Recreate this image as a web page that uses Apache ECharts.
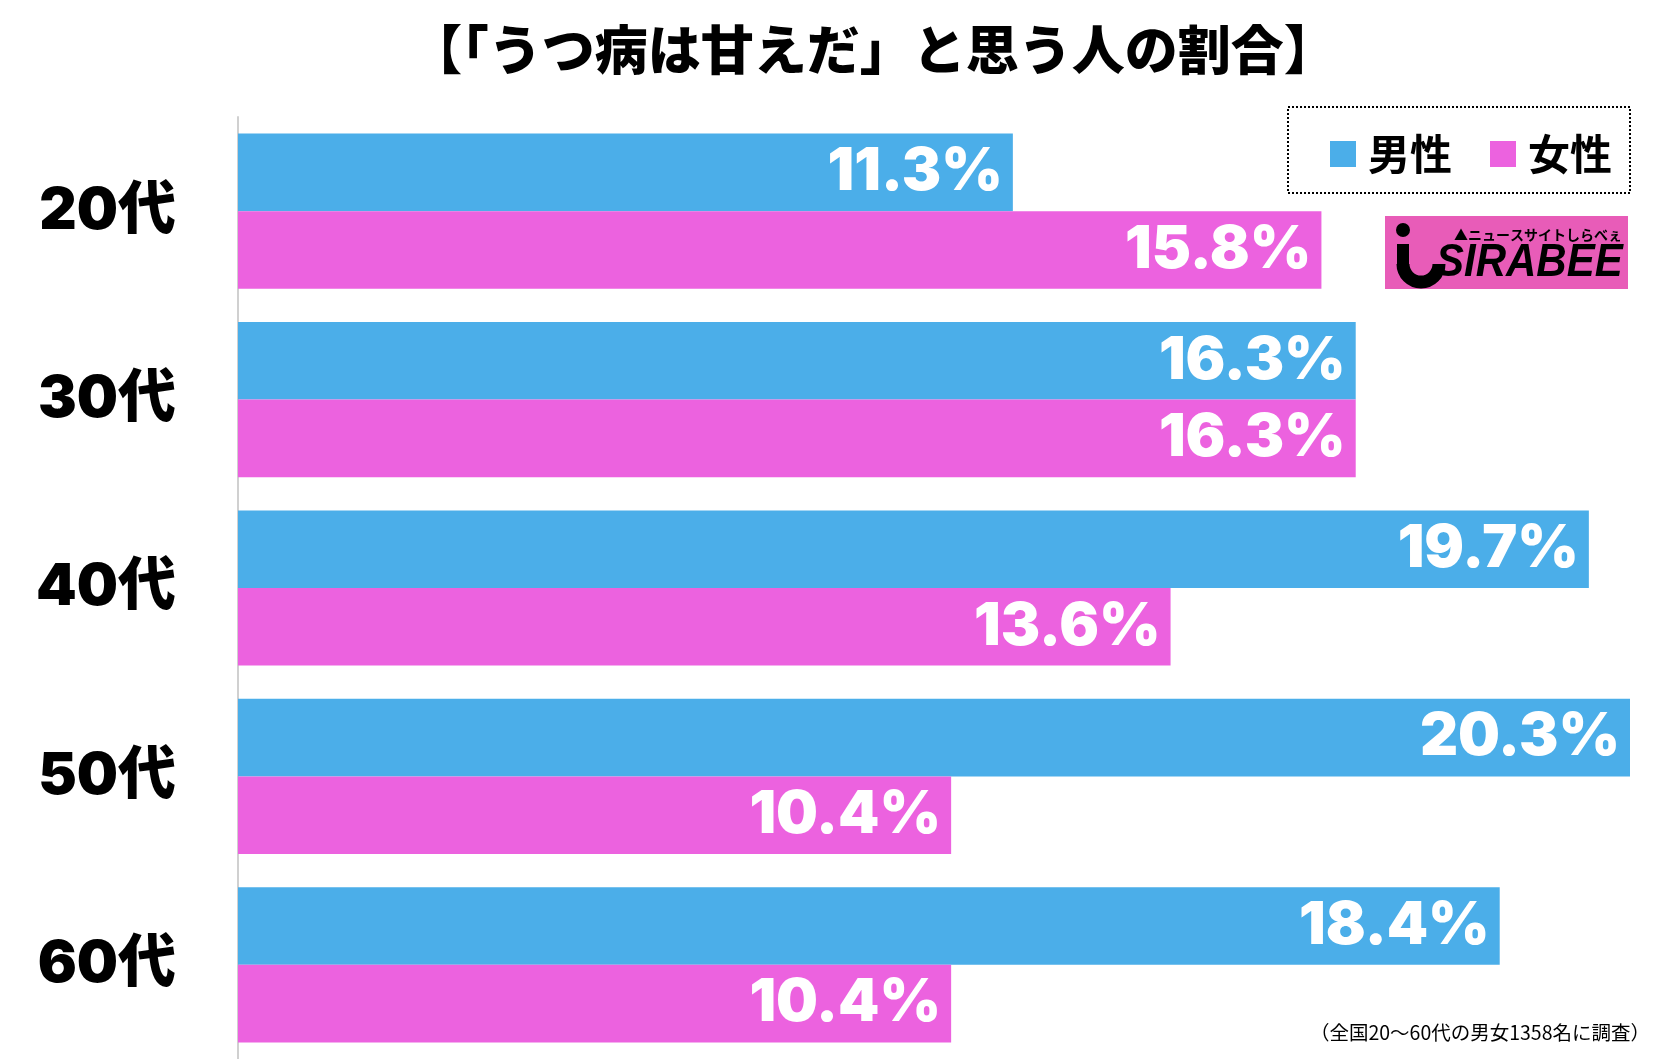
<!DOCTYPE html>
<html>
<head>
<meta charset="utf-8">
<script src="https://cdn.jsdelivr.net/npm/echarts@6/dist/echarts.min.js"></script>
<style>
html,body{margin:0;padding:0;background:#fff;}
#chart{width:1679px;height:1059px;}
</style>
</head>
<body>
<div id="chart"></div>
<script>
const titleText = '【「うつ病は甘えだ」と思う人の割合】';
const categories = ['20代', '30代', '40代', '50代', '60代'];
const seriesNames = ['男性', '女性'];
const maleValues = [11.3, 16.3, 19.7, 20.3, 18.4];
const femaleValues = [15.8, 16.3, 13.6, 10.4, 10.4];
const footnote = '（全国20～60代の男女1358名に調査）';

const BLUE = '#4baee9';
const PINK = '#ec62df';
const CJK = '"Noto Sans CJK JP", "Noto Sans", sans-serif';
const NUM = 'Inter, "Noto Sans", sans-serif';

const chart = echarts.init(document.getElementById('chart'));

const labelCfg = {
  show: true,
  position: 'insideRight',
  distance: 10,
  color: '#fff',
  fontFamily: NUM,
  fontWeight: 900,
  fontSize: 59,
  formatter: p => p.value.toFixed(1) + '%'
};

chart.setOption({
  animation: false,
  backgroundColor: '#fff',
  title: {
    text: titleText,
    left: 868,
    textAlign: 'center',
    top: 18,
    textStyle: {fontFamily: CJK, fontWeight: 900, fontSize: 53, color: '#000'}
  },
  legend: {
    data: seriesNames,
    left: 1325,
    top: 128,
    icon: 'rect',
    itemWidth: 26,
    itemHeight: 26,
    itemGap: 38,
    textStyle: {fontFamily: CJK, fontWeight: 'bold', fontSize: 42, color: '#000', padding: [0, 0, 0, 7]}
  },
  grid: {left: 238, right: 49, top: 117, bottom: 0, containLabel: false},
  xAxis: {
    type: 'value', min: 0, max: 'dataMax',
    show: false
  },
  yAxis: {
    type: 'category',
    data: categories,
    inverse: true,
    axisLine: {show: true, lineStyle: {color: '#d0d0d0', width: 2}},
    axisTick: {show: false},
    axisLabel: {
      margin: 62,
      color: '#000',
      fontFamily: 'Inter, "Noto Sans CJK JP", sans-serif',
      fontWeight: 900,
      fontSize: 58
    }
  },
  series: [
    {name: seriesNames[0], type: 'bar', data: maleValues, itemStyle: {color: BLUE},
     barGap: '0%', barCategoryGap: '17.6%', label: labelCfg},
    {name: seriesNames[1], type: 'bar', data: femaleValues, itemStyle: {color: PINK},
     barGap: '0%', barCategoryGap: '17.6%', label: labelCfg}
  ],
  graphic: [
    {type: 'rect', shape: {x: 1288, y: 107, width: 342, height: 86},
     style: {fill: 'none', stroke: '#000', lineWidth: 2, lineDash: [2, 2]}, z: 10},
    {type: 'rect', shape: {x: 1385, y: 216, width: 243, height: 73}, style: {fill: '#e85cb8'}, z: 10},
    {type: 'circle', shape: {cx: 1403, cy: 230, r: 7}, style: {fill: '#000'}, z: 11},
    {type: 'line', shape: {x1: 1403, y1: 244, x2: 1403, y2: 266}, style: {stroke: '#000', lineWidth: 12}, z: 11},
    {type: 'arc', shape: {cx: 1421, cy: 264, r: 18, startAngle: 0, endAngle: Math.PI}, style: {stroke: '#000', lineWidth: 13, fill: 'none'}, z: 11},
    {type: 'text', x: 1436, y: 286, scaleY: 1.1, originX: 0, originY: 0,
     style: {text: 'SIRABEE', fill: '#000', font: 'italic 900 42px "Liberation Sans", sans-serif', textVerticalAlign: 'bottom'}, z: 11},
    {type: 'text', x: 1622, y: 228, style: {text: '▲ニュースサイトしらべぇ', fill: '#000', font: 'bold 14px ' + CJK, textAlign: 'right'}, z: 11},
    {type: 'text', x: 1650, y: 1033, style: {text: footnote, fill: '#000', font: '19.5px ' + CJK, textAlign: 'right', textVerticalAlign: 'middle'}, z: 10}
  ]
});
</script>
</body>
</html>
